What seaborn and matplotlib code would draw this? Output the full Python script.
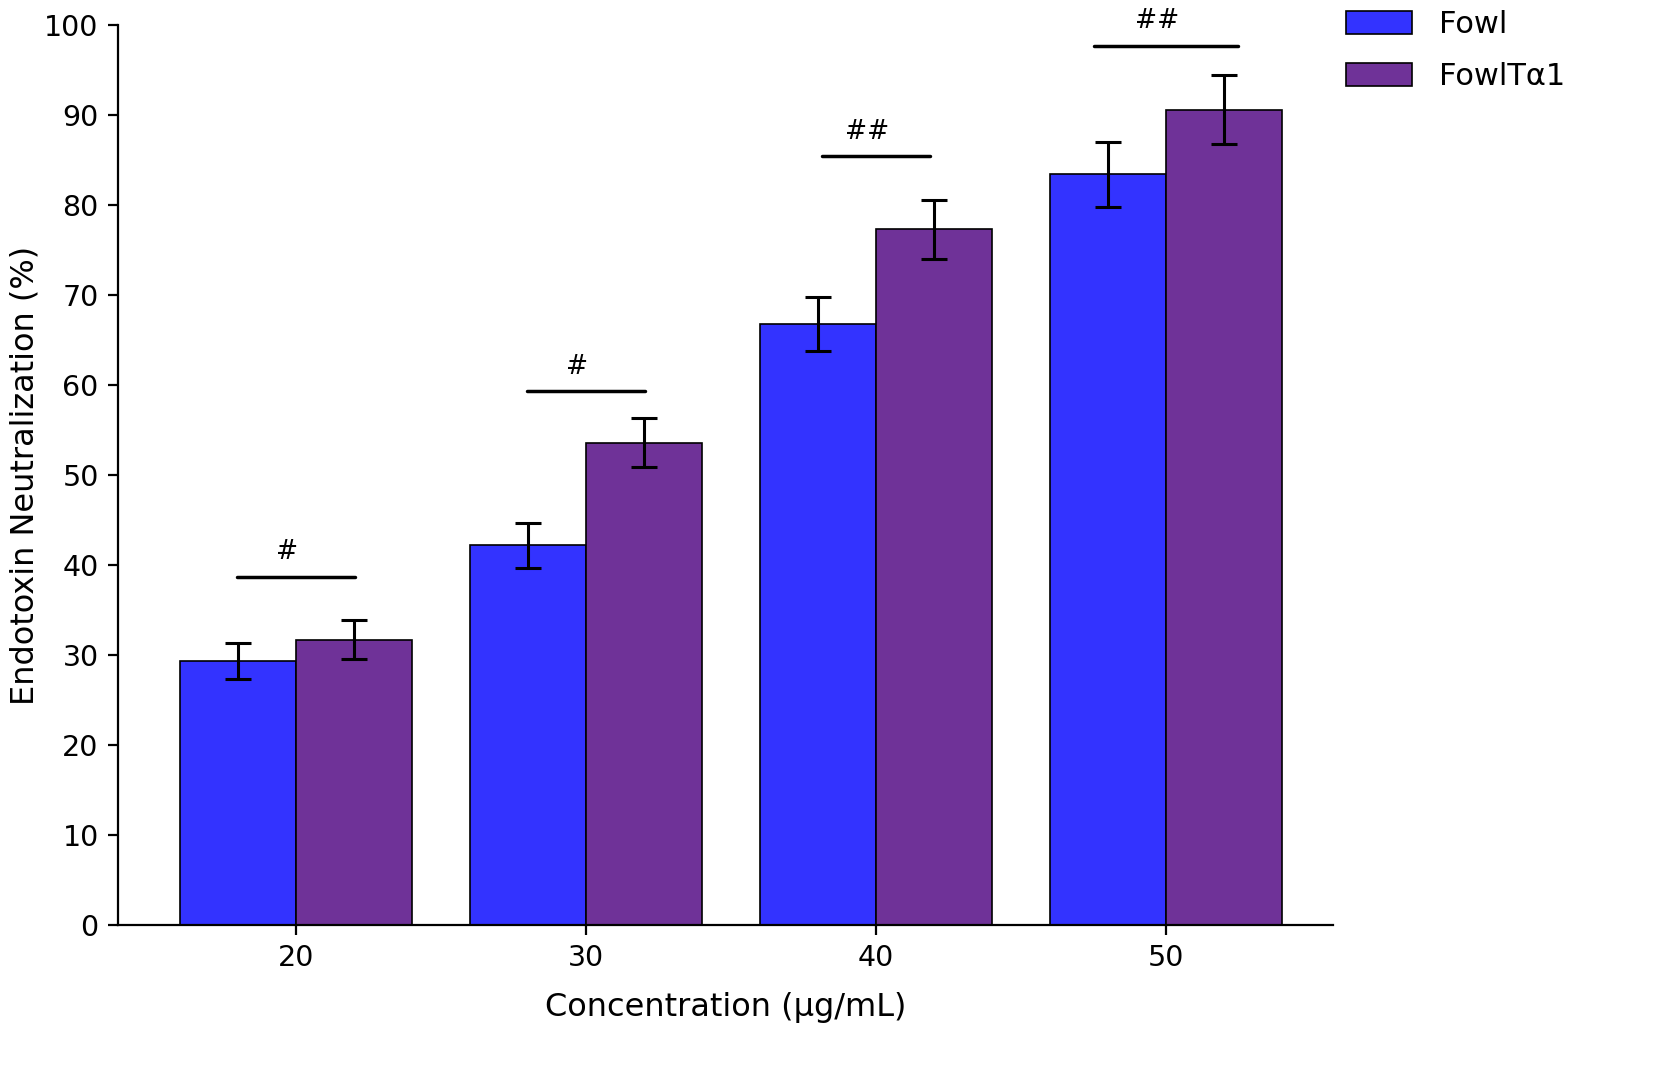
import numpy as np
import pandas as pd
import matplotlib
matplotlib.use("Agg")
import matplotlib.pyplot as plt
import seaborn as sns

# values
concentrations = ["20", "30", "40", "50"]
groups = ["Fowl", "FowlTα1"]
fowl_mean = [29.3, 42.2, 66.8, 83.4]
fowl_err = [2.0, 2.5, 3.0, 3.6]
fowlta1_mean = [31.7, 53.6, 77.3, 90.6]
fowlta1_err = [2.2, 2.7, 3.3, 3.8]
sig_labels = ["#", "#", "##", "##"]
sig_heights = [38.7, 59.3, 85.4, 97.7]

colors = {"Fowl": "#3333FF", "FowlTα1": "#6F3298"}

df = pd.DataFrame({
    "Concentration": concentrations * 2,
    "Group": ["Fowl"] * 4 + ["FowlTα1"] * 4,
    "Value": fowl_mean + fowlta1_mean,
})

sns.set_style("ticks", {"text.color": "black", "axes.labelcolor": "black",
                        "xtick.color": "black", "ytick.color": "black",
                        "axes.edgecolor": "black"})
plt.rcParams["font.family"] = ["DejaVu Sans"]

fig = plt.figure(figsize=(16.56, 10.9), dpi=100)
ax = fig.add_axes([0.0713, 0.1514, 0.7337, 0.8257])

sns.barplot(data=df, x="Concentration", y="Value", hue="Group",
            palette=colors, saturation=1, edgecolor="black", linewidth=1.2,
            errorbar=None, ax=ax)

# error bars at the bar centres
errs = {"Fowl": fowl_err, "FowlTα1": fowlta1_err}
means = {"Fowl": fowl_mean, "FowlTα1": fowlta1_mean}
bars = [p for p in ax.patches if p.get_height() > 0]
bars = sorted(bars, key=lambda p: p.get_x())
for i in range(4):
    for j, g in enumerate(groups):
        p = bars[2 * i + j]
        xc = p.get_x() + p.get_width() / 2
        ax.errorbar(xc, means[g][i], yerr=errs[g][i], color="black",
                    capsize=9.5, elinewidth=2.2, capthick=2.2, zorder=5)

# significance markers
halves = [0.203, 0.203, 0.185, 0.247]
for i in range(4):
    left = bars[2 * i]
    xc = left.get_x() + left.get_width()
    ax.plot([xc - halves[i], xc + halves[i]], [sig_heights[i]] * 2,
            color="black", lw=2.5)
    ax.text(xc - 0.03, sig_heights[i] + 1.3, sig_labels[i], ha="center",
            va="bottom", fontsize=19)

ax.set_ylim(0, 100)
ax.set_xlim(-0.614, 3.576)
ax.set_yticks(range(0, 101, 10))
ax.tick_params(labelsize=20.5, length=7, width=1.6, pad=7)
ax.set_xlabel("Concentration (μg/mL)", fontsize=23, labelpad=14)
ax.set_ylabel("Endotoxin Neutralization (%)", fontsize=23, labelpad=3)
for s in ["left", "bottom"]:
    ax.spines[s].set_linewidth(1.6)
sns.despine(ax=ax)

ax.legend(loc="upper left", bbox_to_anchor=(0.796, 1.016),
          bbox_transform=fig.transFigure, frameon=False, fontsize=22,
          handlelength=2.16, handleheight=0.8, labelspacing=0.75,
          handletextpad=0.9)

fig.savefig("out.png", dpi=100)
